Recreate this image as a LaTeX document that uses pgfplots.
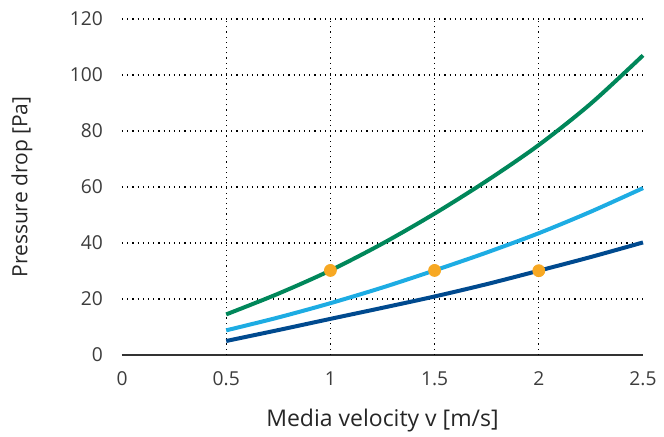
\documentclass[border=0pt]{standalone}
\usepackage{fontspec}
\setmainfont{Open Sans}
\usepackage{pgfplots}
\pgfplotsset{compat=1.18}
\definecolor{cgreen}{HTML}{00875A}
\definecolor{clblue}{HTML}{1DACE3}
\definecolor{cdblue}{HTML}{004A8F}
\definecolor{corange}{HTML}{F7A823}
\definecolor{ctick}{HTML}{3C3C3C}
\begin{document}
\begin{tikzpicture}
\begin{axis}[
  scale only axis,
  width=260.5pt, height=168pt,
  xmin=0, xmax=2.5, ymin=0, ymax=120,
  xtick={0,0.5,1,1.5,2,2.5},
  xticklabels={0,0.5,1,1.5,2,2.5},
  ytick={0,20,40,60,80,100,120},
  extra x ticks={0.5,1,1.5,2},
  extra x tick labels={},
  extra x tick style={grid=major},
  ymajorgrids=true,
  major grid style={black, line width=0.6pt, dotted},
  axis x line*=bottom,
  axis y line*=left,
  x axis line style={draw=black!80, line width=0.6pt, -},
  y axis line style={draw=none},
  major tick length=0pt,
  tick style={draw=none},
  /pgf/number format/assume math mode=true,
  ticklabel style={font=\fontsize{9.6}{11}\selectfont, text=ctick},
  xticklabel style={yshift=-5pt},
  yticklabel style={xshift=-6pt},
  xlabel={Media velocity v [m/s]},
  ylabel={Pressure drop [Pa]},
  label style={text=black!85},
  xlabel style={font=\fontsize{11.5}{13}\selectfont, at={(axis description cs:0.5,0)}, anchor=base, yshift=-36pt},
  ylabel style={font=\fontsize{10.5}{12}\selectfont, at={(axis description cs:0,0.5)}, anchor=center, yshift=50pt},
  clip=false,
]
\addplot[cgreen, line width=2pt, smooth, tension=0.5] coordinates {
(0.5,14.5) (0.75,21.9) (1.0,30.2) (1.25,39.8) (1.5,50.5) (1.75,62.2) (2.0,75.0) (2.25,89.8) (2.5,107)};
\addplot[clblue, line width=2pt, smooth, tension=0.5] coordinates {
(0.5,8.8) (0.75,13.4) (1.0,18.5) (1.25,24.1) (1.5,30.2) (1.75,36.6) (2.0,43.5) (2.25,51.2) (2.5,59.6)};
\addplot[cdblue, line width=2pt, smooth, tension=0.5] coordinates {
(0.5,5.0) (0.75,8.9) (1.0,12.9) (1.25,16.85) (1.5,20.9) (1.75,25.3) (2.0,30.1) (2.25,35.0) (2.5,40.2)};
\addplot[only marks, mark=*, mark size=3pt, mark options={draw=corange, fill=corange}] coordinates {
(1,30.2) (1.5,30.2) (2,30.1)};
\end{axis}
\pgfresetboundingbox
\path (-61pt,-41pt) rectangle (271pt,177.5pt);
\end{tikzpicture}
\end{document}
